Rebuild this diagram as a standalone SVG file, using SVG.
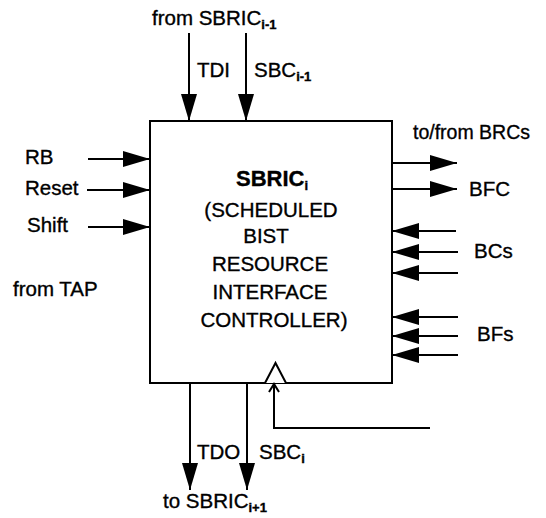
<svg xmlns="http://www.w3.org/2000/svg" width="546" height="518" viewBox="0 0 546 518">
<defs>
<style>
text{font-family:"Liberation Sans",Arial,Helvetica,sans-serif;font-size:20.5px;fill:#000;stroke:#000;stroke-width:0.35}
.b{font-weight:bold;font-size:22px}
.sub{font-size:13px;font-weight:bold}
.ln{stroke:#000;stroke-width:2;fill:none}
</style>
<marker id="ah" markerUnits="userSpaceOnUse" markerWidth="28" markerHeight="16" refX="27" refY="8" orient="auto">
<path d="M0,0 L27,8 L0,16 z" fill="#000"/>
</marker>
</defs>
<g id="sbric">
<rect x="150" y="121" width="242" height="262" fill="#fff" stroke="#000" stroke-width="2"/>
<path d="M265,383 L275.5,363 L286,383" fill="#fff" stroke="#000" stroke-width="2"/>
<text x="272" y="186" text-anchor="middle" class="b">SBRIC<tspan class="sub" dy="4">i</tspan></text>
<text x="271" y="217" text-anchor="middle">(SCHEDULED</text>
<text x="266" y="243" text-anchor="middle">BIST</text>
<text x="270" y="271" text-anchor="middle">RESOURCE</text>
<text x="270" y="299" text-anchor="middle">INTERFACE</text>
<text x="274" y="327" text-anchor="middle">CONTROLLER)</text>
</g>
<g id="labels">
<text x="152" y="25">from SBRIC<tspan class="sub" dy="4">i-1</tspan></text>
<text x="197" y="77">TDI</text>
<text x="254" y="77">SBC<tspan class="sub" dy="4">i-1</tspan></text>
<text x="25" y="164">RB</text>
<text x="25" y="195">Reset</text>
<text x="27" y="232">Shift</text>
<text x="13" y="296">from TAP</text>
<text x="413" y="139" textLength="117" lengthAdjust="spacingAndGlyphs">to/from BRCs</text>
<text x="469" y="196">BFC</text>
<text x="474" y="258">BCs</text>
<text x="477" y="341">BFs</text>
<text x="197" y="459">TDO</text>
<text x="259" y="459">SBC<tspan class="sub" dy="4">i</tspan></text>
<text x="163" y="508">to SBRIC<tspan class="sub" dy="4">i+1</tspan></text>
</g>
<g id="connectors">
<path class="ln" d="M189,33 V121" marker-end="url(#ah)"/>
<path class="ln" d="M246,33 V121" marker-end="url(#ah)"/>
<path class="ln" d="M88,159 H150" marker-end="url(#ah)"/>
<path class="ln" d="M87,190 H150" marker-end="url(#ah)"/>
<path class="ln" d="M88,227 H150" marker-end="url(#ah)"/>
<path class="ln" d="M392,163 H457" marker-end="url(#ah)"/>
<path class="ln" d="M392,189 H457" marker-end="url(#ah)"/>
<path class="ln" d="M456,231 H392" marker-end="url(#ah)"/>
<path class="ln" d="M458,252 H392" marker-end="url(#ah)"/>
<path class="ln" d="M458,273 H392" marker-end="url(#ah)"/>
<path class="ln" d="M458,317 H392" marker-end="url(#ah)"/>
<path class="ln" d="M458,336 H392" marker-end="url(#ah)"/>
<path class="ln" d="M458,355 H392" marker-end="url(#ah)"/>
<path class="ln" d="M190,383 V490" marker-end="url(#ah)"/>
<path class="ln" d="M247,383 V490" marker-end="url(#ah)"/>
<path class="ln" d="M430,428 H274 V384"/>
<path class="ln" d="M269,392 L274,384 L279,392"/>
</g>
</svg>
